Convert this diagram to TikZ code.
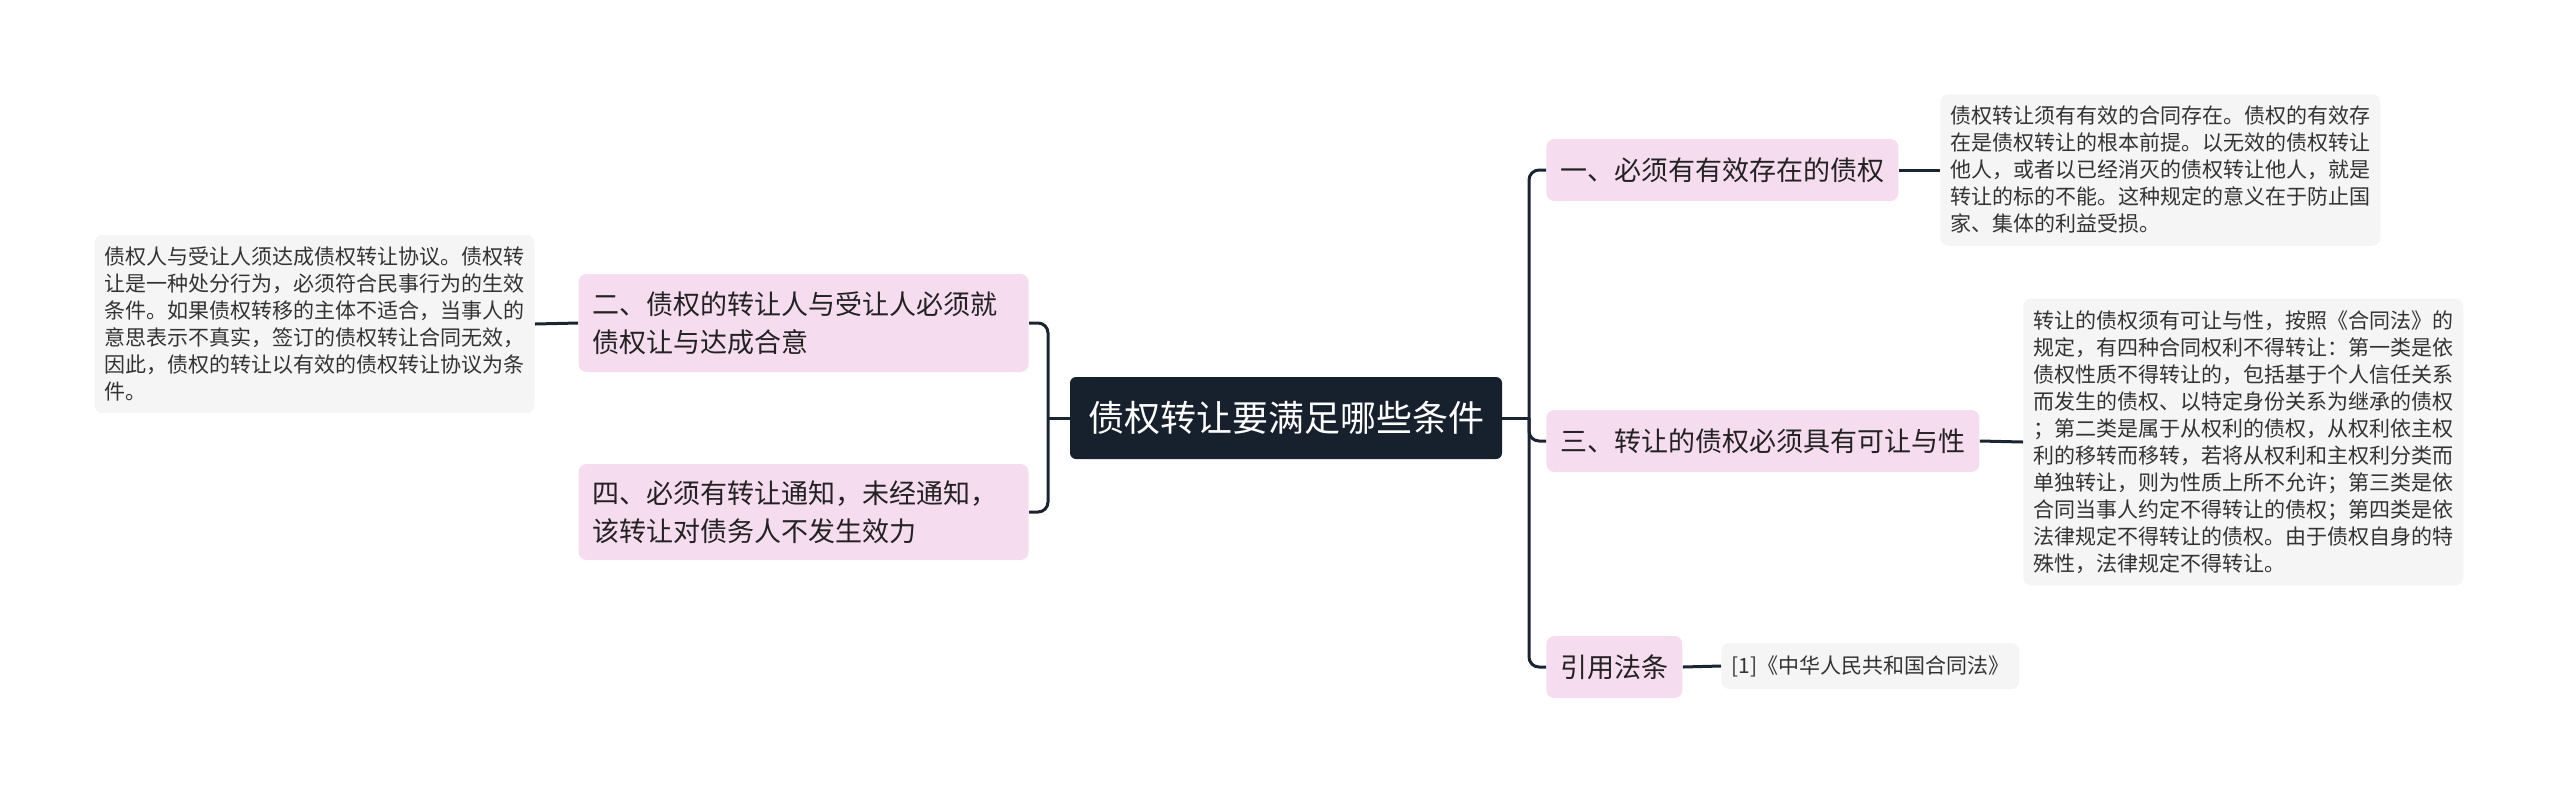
\documentclass[tikz,border=0pt]{standalone}
\usepackage{fontspec}
\setmainfont{Noto Sans CJK SC}
\definecolor{rootfill}{HTML}{17202D}
\definecolor{topicfill}{HTML}{F6DCEF}
\definecolor{notefill}{HTML}{F5F5F5}
\definecolor{linecolor}{HTML}{1B2431}
\definecolor{topictext}{HTML}{222222}
\definecolor{notetext}{HTML}{333333}
\tikzset{
    root/.style={rectangle, rounded corners=3pt, fill=rootfill, text=white,
                 font=\fontsize{18}{22}\selectfont, inner xsep=9pt, minimum height=41pt},
    topic/.style={rectangle, rounded corners=4pt, fill=topicfill, text=topictext,
                  font=\fontsize{13.5}{18.8}\selectfont, inner xsep=7pt,
                  minimum height=31pt, align=left},
    note/.style={rectangle, rounded corners=4pt, fill=notefill, text=notetext,
                 font=\fontsize{10.5}{13.5}\selectfont, inner xsep=5pt,
                 inner ysep=6pt, align=left},
    link/.style={draw=linecolor, line width=1.5pt, rounded corners=5pt},
}
\begin{document}
\begin{tikzpicture}[x=0.5pt, y=-0.5pt]

    \useasboundingbox (0,0) rectangle (2560,789);

    \node[root] (root) at (1286,418) {债权转让要满足哪些条件};
    \coordinate (lfork) at (1048,418);
    \coordinate (rfork) at (1529,418);

    \node[topic, anchor=east, text width=211pt, minimum height=49pt] (two) at (1029,323)
        {二、债权的转让人与受让人必须就\\债权让与达成合意};
    \node[topic, anchor=east, text width=211pt, minimum height=48pt] (four) at (1029,512)
        {四、必须有转让通知，未经通知，\\该转让对债务人不发生效力};
    \node[note, anchor=east] (twonote) at (535,324)
        {债权人与受让人须达成债权转让协议。债权转\\
         让是一种处分行为，必须符合民事行为的生效\\
         条件。如果债权转移的主体不适合，当事人的\\
         意思表示不真实，签订的债权转让合同无效，\\
         因此，债权的转让以有效的债权转让协议为条\\
         件。};

    \node[topic, anchor=west] (one) at (1546,170) {一、必须有有效存在的债权};
    \node[topic, anchor=west] (three) at (1546,441) {三、转让的债权必须具有可让与性};
    \node[topic, anchor=west] (law) at (1546,667) {引用法条};

    \node[note, anchor=west] (onenote) at (1940,170)
        {债权转让须有有效的合同存在。债权的有效存\\
         在是债权转让的根本前提。以无效的债权转让\\
         他人，或者以已经消灭的债权转让他人，就是\\
         转让的标的不能。这种规定的意义在于防止国\\
         家、集体的利益受损。};
    \node[note, anchor=west] (threenote) at (2023,442)
        {转让的债权须有可让与性，按照《合同法》的\\
         规定，有四种合同权利不得转让：第一类是依\\
         债权性质不得转让的，包括基于个人信任关系\\
         而发生的债权、以特定身份关系为继承的债权\\
         ；第二类是属于从权利的债权，从权利依主权\\
         利的移转而移转，若将从权利和主权利分类而\\
         单独转让，则为性质上所不允许；第三类是依\\
         合同当事人约定不得转让的债权；第四类是依\\
         法律规定不得转让的债权。由于债权自身的特\\
         殊性，法律规定不得转让。};
    \node[note, anchor=west, minimum height=23pt] (lawnote) at (1721,666)
        {[1]《中华人民共和国合同法》};

    \draw[link] (root.west) -- (lfork);
    \draw[link] (lfork) |- (two.east);
    \draw[link] (lfork) |- (four.east);
    \draw[link] (two.west) -- (twonote.east);

    \draw[link] (root.east) -- (rfork);
    \draw[link] (rfork) |- (one.west);
    \draw[link] (rfork) |- (three.west);
    \draw[link] (rfork) |- (law.west);
    \draw[link] (one.east) -- (onenote.west);
    \draw[link] (three.east) -- (threenote.west);
    \draw[link] (law.east) -- (lawnote.west);

\end{tikzpicture}
\end{document}
